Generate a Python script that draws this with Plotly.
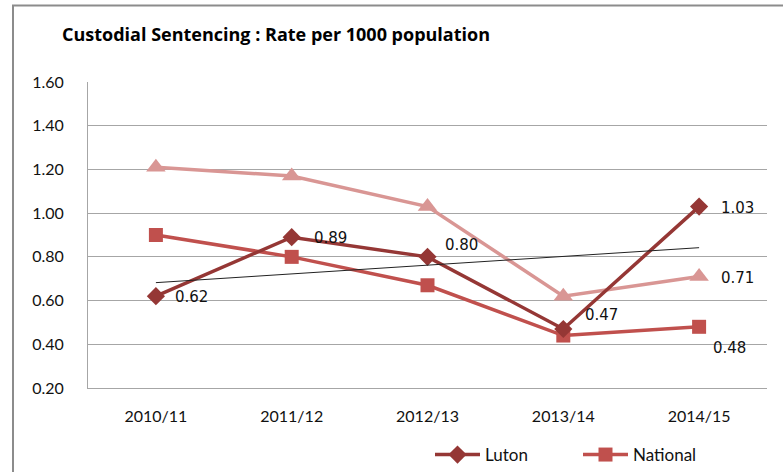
import numpy as np
import plotly.graph_objects as go

categories = ["2010/11", "2011/12", "2012/13", "2013/14", "2014/15"]
luton = [0.62, 0.89, 0.80, 0.47, 1.03]
national = [0.90, 0.80, 0.67, 0.44, 0.48]
comparator = [1.21, 1.17, 1.03, 0.62, 0.71]
y_ticks = [0.20, 0.40, 0.60, 0.80, 1.00, 1.20, 1.40, 1.60]

# linear trend of Luton
xi = np.arange(len(luton))
slope, intercept = np.polyfit(xi, luton, 1)
trend = list(intercept + slope * xi)

LABEL_FONT = dict(family="DejaVu Sans", size=15, color="#111")
fig = go.Figure()

fig.add_trace(go.Scatter(
    x=categories, y=comparator, name="Comparator", showlegend=False,
    mode="lines+markers",
    line=dict(color="#D99694", width=3.5),
    marker=dict(symbol="triangle-up", size=17, color="#D99694"),
))
fig.add_trace(go.Scatter(
    x=categories, y=national, name="National",
    mode="lines+markers",
    line=dict(color="#C0504D", width=3.5),
    marker=dict(symbol="square", size=14, color="#C0504D"),
))
fig.add_trace(go.Scatter(
    x=categories, y=luton, name="Luton",
    mode="lines+markers",
    line=dict(color="#953735", width=3.5),
    marker=dict(symbol="diamond", size=14, color="#953735"),
))
fig.add_trace(go.Scatter(
    x=categories, y=trend, name="Linear (Luton)", showlegend=False,
    mode="lines", line=dict(color="#222", width=1), hoverinfo="skip",
))

# data labels (pixel offsets from the point)
luton_offsets = [(17, -1), (20, -1), (15, 12), (20, 14), (20, -1)]
annotations = []
for cat, v, (dx, dy) in zip(categories, luton, luton_offsets):
    annotations.append(dict(x=cat, y=v, text=f"{v:.2f}", showarrow=False,
                            xanchor="left", yanchor="middle",
                            xshift=dx, yshift=dy, font=LABEL_FONT))
annotations.append(dict(x=categories[-1], y=comparator[-1], text=f"{comparator[-1]:.2f}",
                        showarrow=False, xanchor="left", yanchor="middle",
                        xshift=20, yshift=-1, font=LABEL_FONT))
annotations.append(dict(x=categories[-1], y=national[-1], text=f"{national[-1]:.2f}",
                        showarrow=False, xanchor="left", yanchor="middle",
                        xshift=12, yshift=-21, font=LABEL_FONT))

fig.update_layout(
    width=783, height=472,
    margin=dict(l=88, r=16, t=82, b=84, autoexpand=False),
    paper_bgcolor="white", plot_bgcolor="white",
    font=dict(family="Lato", size=16, color="#111"),
    title=dict(text="<b>Custodial Sentencing : Rate per 1000 population</b>",
               x=62/783, xanchor="left", y=1-35/472, yanchor="middle",
               font=dict(family="Open Sans", size=18, color="#000")),
    showlegend=True,
    legend=dict(orientation="h", xref="container", yref="container",
                x=430/783, xanchor="left",
                y=1-455/472, yanchor="middle",
                traceorder="reversed", itemwidth=45,
                entrywidth=88, entrywidthmode="pixels",
                font=dict(family="Lato", size=17, color="#111")),
    annotations=annotations,
    shapes=[dict(type="rect", xref="paper", yref="paper",
                 x0=(13-88)/679, x1=1.1, y0=-0.4, y1=(388-5.5)/306,
                 line=dict(color="#8c8c8c", width=2), layer="below")],
)
fig.update_xaxes(
    categoryorder="array", categoryarray=categories,
    range=[-0.5, 4.5],
    showline=True, linecolor="#a6a6a6", linewidth=1,
    showgrid=False, ticks="", ticklabelstandoff=14,
    tickfont=dict(family="Lato", size=16),
)
fig.update_yaxes(
    range=[0.2, 1.6], tickvals=y_ticks,
    ticktext=[f"{v:.2f}" for v in y_ticks],
    showline=True, linecolor="#a6a6a6", linewidth=1,
    showgrid=True, gridcolor="#a6a6a6", gridwidth=1,
    zeroline=False, ticks="", ticklabelstandoff=20,
    tickfont=dict(family="Lato", size=16),
)

fig.write_html("out.html", config={"displayModeBar": False},
               post_script="document.body.style.margin='0';document.body.style.overflow='hidden';")
